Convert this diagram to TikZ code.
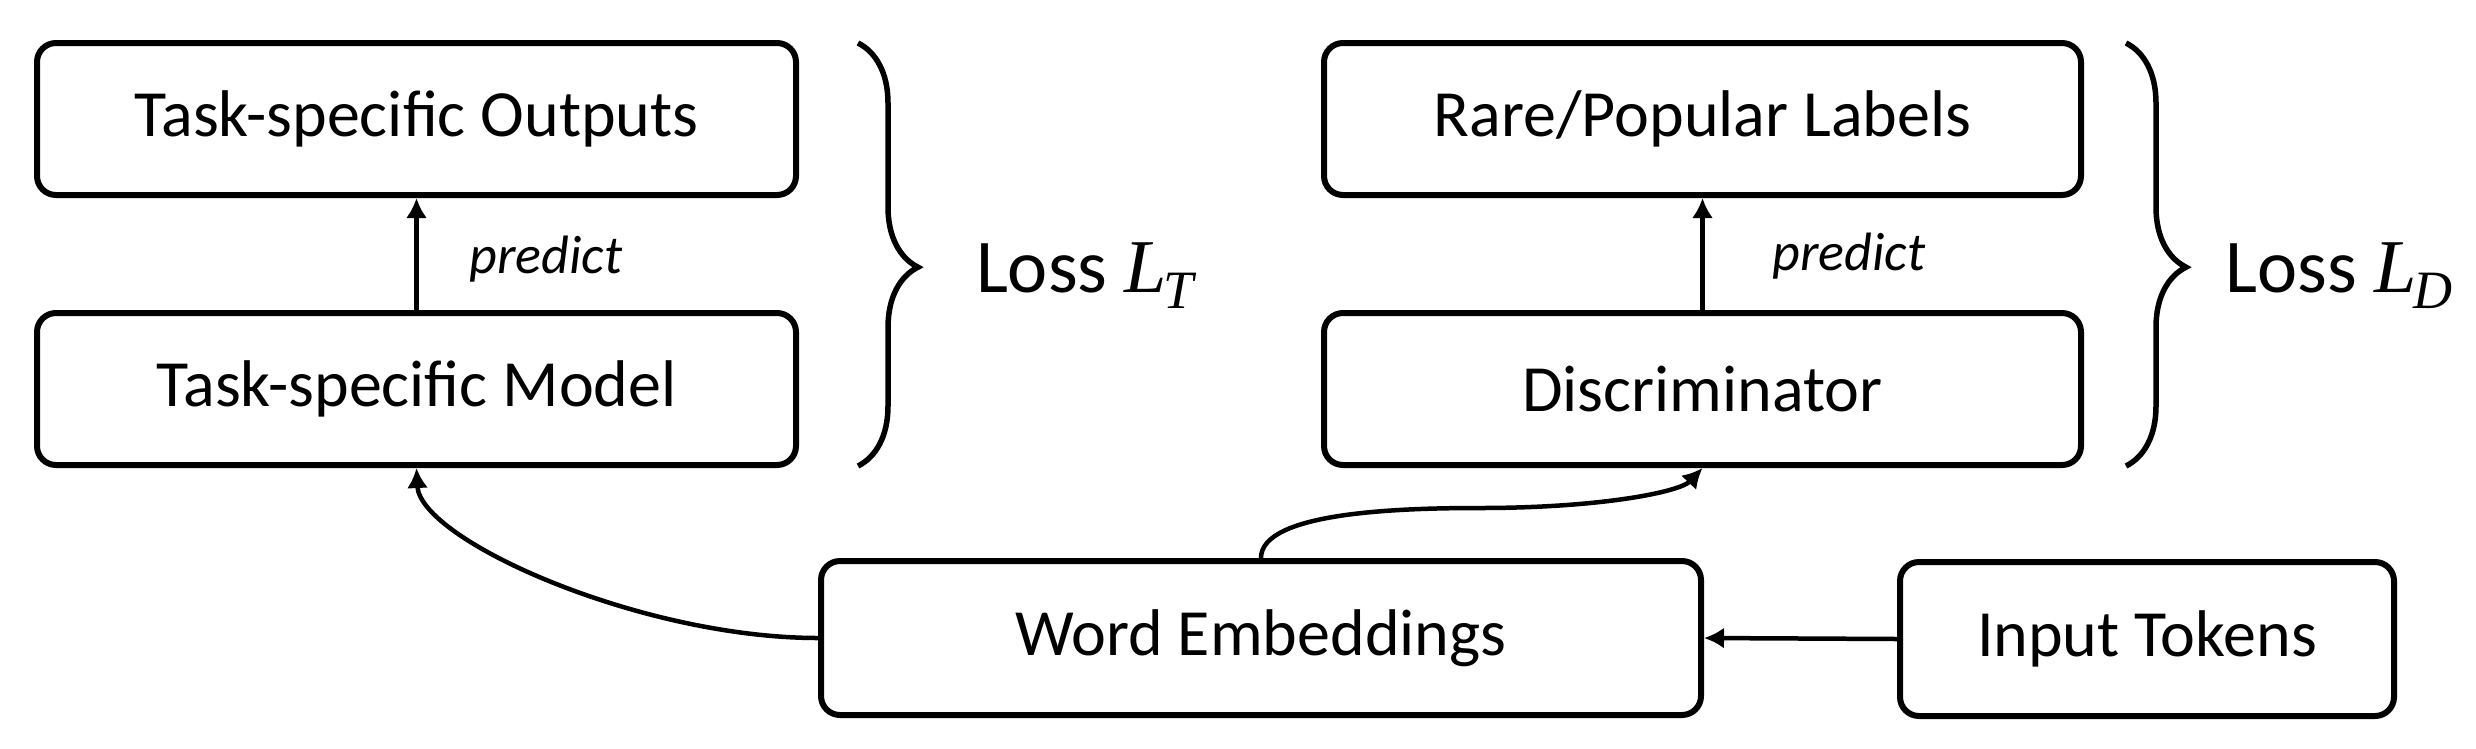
\documentclass[tikz,border=0pt]{standalone}
\usepackage{fontspec}
\setmainfont{Carlito}
\newfontfamily\lmath{Liberation Serif}[ItalicFont=* Italic]
\newcommand{\lsym}[1]{{\lmath\itshape L\kern-0.04em\raisebox{-0.22em}{\fontsize{54}{54}\selectfont #1}}}
\usetikzlibrary{arrows.meta,decorations.pathreplacing}
\begin{document}
\begin{tikzpicture}[x=1pt,y=-1pt,
  box/.style={draw, line width=6pt, rounded corners=19pt, inner sep=0pt,
    minimum height=152pt, font=\fontsize{66}{78}\selectfont},
  arr/.style={line width=4.5pt, -{Latex[length=20pt,width=21pt]}},
  lbl/.style={font=\fontsize{54}{62}\selectfont\itshape, anchor=base, inner sep=0pt},
  loss/.style={font=\fontsize{76}{90}\selectfont, anchor=base, inner sep=0pt},
  brc/.style={line width=5.5pt, decorate, decoration={brace, amplitude=60pt, aspect=0.53}}]
\useasboundingbox (0,0) rectangle (2476,748);
\node[box, minimum width=759pt] (to) at (416.5,119) {Task-specific Outputs};
\node[box, minimum width=759pt] (tm) at (416.5,389) {Task-specific Model};
\node[box, minimum width=757pt] (rp) at (1702.5,119) {Rare/Popular Labels};
\node[box, minimum width=757pt] (disc) at (1702.5,389) {Discriminator};
\node[box, minimum width=880pt, minimum height=154pt] (we) at (1261,638) {Word Embeddings};
\node[box, minimum width=494pt, minimum height=154pt] (it) at (2147,639) {Input Tokens};
\draw[arr] (tm.north) -- (to.south);
\draw[arr] (disc.north) -- (rp.south);
\node[lbl] (p1) at (546,273) {predict};
\node[lbl] (p2) at (1849,270) {predict};
\draw[arr] (it.west) -- (we.east);
\draw[arr] (we.west) .. controls (640,638) and (420,540) .. (tm.south);
\coordinate (m) at (1480,508);
\draw[arr] (we.north) .. controls (1261,512) and (1400,508) .. (m) .. controls (1600,508) and (1680,492) .. (disc.south);
\draw[brc] (858,43) -- (858,466);
\draw[brc] (2126,43) -- (2126,466);
\node[loss] (lt) at (1085,292) {Loss \lsym{T}};
\node[loss] (ld) at (2339,292) {Loss \lsym{D}};
\end{tikzpicture}
\end{document}
